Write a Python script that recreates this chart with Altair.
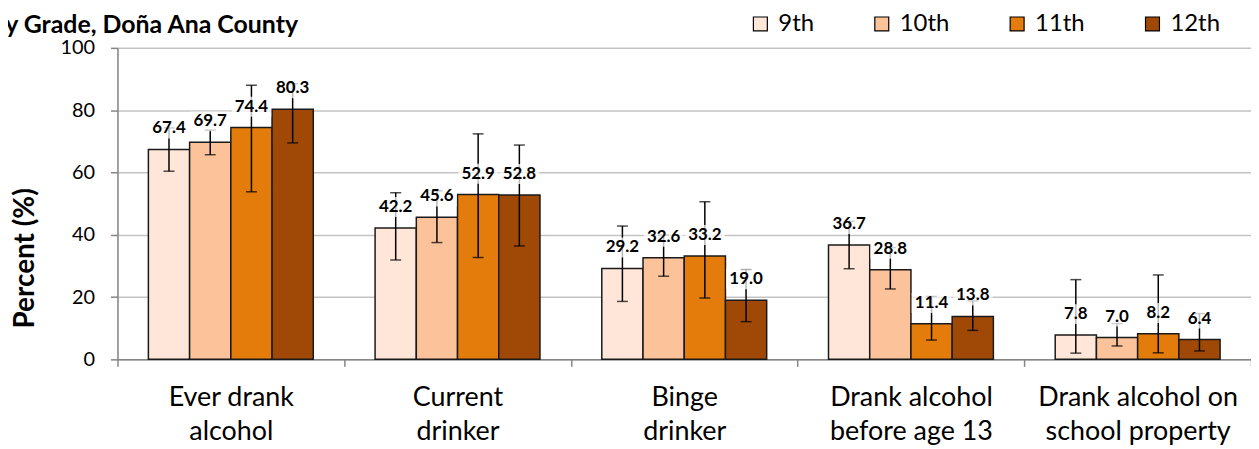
import altair as alt
import pandas as pd

# ---- data ----
categories = [
    "Ever drank\nalcohol",
    "Current\ndrinker",
    "Binge\ndrinker",
    "Drank alcohol\nbefore age 13",
    "Drank alcohol on\nschool property",
]
grades = ["9th", "10th", "11th", "12th"]
colors = ["#FFE6D8", "#FCC39B", "#E37C0B", "#A04906"]

values_9th = [67.4, 42.2, 29.2, 36.7, 7.8]
values_10th = [69.7, 45.6, 32.6, 28.8, 7.0]
values_11th = [74.4, 52.9, 33.2, 11.4, 8.2]
values_12th = [80.3, 52.8, 19.0, 13.8, 6.4]

low_9th = [60.4, 31.9, 18.6, 29.1, 2.0]
low_10th = [65.7, 37.5, 26.7, 22.6, 4.3]
low_11th = [53.8, 32.7, 19.7, 6.2, 2.1]
low_12th = [69.5, 36.4, 12.1, 9.3, 2.7]

high_9th = [74.3, 53.5, 42.8, 44.3, 25.6]
high_10th = [73.6, 54.1, 39.9, 35.9, 11.5]
high_11th = [88.0, 72.4, 50.6, 20.2, 27.1]
high_12th = [88.5, 68.8, 28.8, 18.8, 14.7]

y_ticks = [0, 20, 40, 60, 80, 100]

values = [values_9th, values_10th, values_11th, values_12th]
lows = [low_9th, low_10th, low_11th, low_12th]
highs = [high_9th, high_10th, high_11th, high_12th]

rows = []
for gi, g in enumerate(grades):
    for ci, c in enumerate(categories):
        rows.append({"category": c, "grade": g, "value": values[gi][ci],
                     "low": lows[gi][ci], "high": highs[gi][ci]})
df = pd.DataFrame(rows)

FONT = "Lato"
AXIS_GRAY = "#868686"

x_enc = alt.X("category:N", sort=categories,
              scale=alt.Scale(paddingInner=0, paddingOuter=0),
              axis=alt.Axis(title=None, labelAngle=0, labelFont=FONT, labelFontSize=27,
                            labelColor="black", labelExpr="split(datum.label, '\\n')",
                            labelLineHeight=35, labelPadding=18, labelLimit=0,
                            domainColor=AXIS_GRAY, domainWidth=1.5,
                            tickColor=AXIS_GRAY, tickWidth=1.5, tickSize=7,
                            tickBand="extent", grid=False))
xoff_enc = alt.XOffset("grade:N", sort=grades,
                       scale=alt.Scale(paddingInner=0, paddingOuter=0.75))
y_scale = alt.Scale(domain=[0, 100], nice=False)

base = alt.Chart(df)

bars = base.mark_bar(stroke="#1a1a1a", strokeWidth=1.5).encode(
    x=x_enc,
    xOffset=xoff_enc,
    y=alt.Y("value:Q", scale=y_scale,
            axis=alt.Axis(values=y_ticks, title="Percent (%)", titleFont=FONT,
                          titleFontSize=28, titleFontWeight="bold", titleColor="black",
                          titleAngle=-90, titleX=-92, titleY=211, titleAlign="center",
                          titleBaseline="middle",
                          labelFont=FONT, labelFontSize=20, labelColor="black",
                          labelPadding=16, tickSize=7, tickColor=AXIS_GRAY, tickWidth=1.5,
                          domainColor=AXIS_GRAY, domainWidth=1.5,
                          gridColor="#C3C3C3", gridWidth=1.5)),
    color=alt.Color("grade:N", sort=grades,
                    scale=alt.Scale(domain=grades, range=colors),
                    legend=alt.Legend(orient="none", legendX=634, legendY=-36,
                                      direction="horizontal", title=None,
                                      symbolType="square", symbolSize=196,
                                      symbolStrokeColor="black", symbolStrokeWidth=1.2,
                                      symbolOpacity=1,
                                      labelFont=FONT, labelFontSize=24, labelColor="black",
                                      labelOffset=6, columnPadding=56)),
)

err = base.mark_rule(color="black", strokeWidth=1.5).encode(
    x=alt.X("category:N", sort=categories), xOffset=xoff_enc,
    y=alt.Y("low:Q", scale=y_scale), y2="high:Q")

cap_lo = base.mark_tick(color="black", thickness=1.5, size=11, orient="horizontal").encode(
    x=alt.X("category:N", sort=categories), xOffset=xoff_enc,
    y=alt.Y("low:Q", scale=y_scale))
cap_hi = base.mark_tick(color="black", thickness=1.5, size=11, orient="horizontal").encode(
    x=alt.X("category:N", sort=categories), xOffset=xoff_enc,
    y=alt.Y("high:Q", scale=y_scale))

boxes = base.mark_point(shape="M-2,-1H2V1H-2Z", size=400, filled=True, fill="white",
                        opacity=0.72, strokeWidth=0, yOffset=-21).encode(
    x=alt.X("category:N", sort=categories), xOffset=xoff_enc,
    y=alt.Y("value:Q", scale=y_scale))

labels = base.mark_text(font=FONT, fontSize=17, fontWeight="bold", color="black",
                        dy=-21, baseline="middle", align="center").encode(
    x=alt.X("category:N", sort=categories), xOffset=xoff_enc,
    y=alt.Y("value:Q", scale=y_scale),
    text=alt.Text("value:Q", format=".1f"))

chart = alt.layer(bars, err, cap_lo, cap_hi, boxes, labels).properties(
    width=1139, height=313,
    padding={"left": 110, "top": 39, "right": 0, "bottom": 89},
    autosize=alt.AutoSizeParams(type="none"),
    title=alt.TitleParams(text="By Grade, Doña Ana County", anchor="start", frame="group",
                          font=FONT, fontSize=25, fontWeight="bold", color="black",
                          dx=-129, dy=61, offset=15, baseline="alphabetic"),
).configure_view(stroke=None).configure(font=FONT)

chart.save("out.html", embed_options={"renderer": "svg", "actions": False})
